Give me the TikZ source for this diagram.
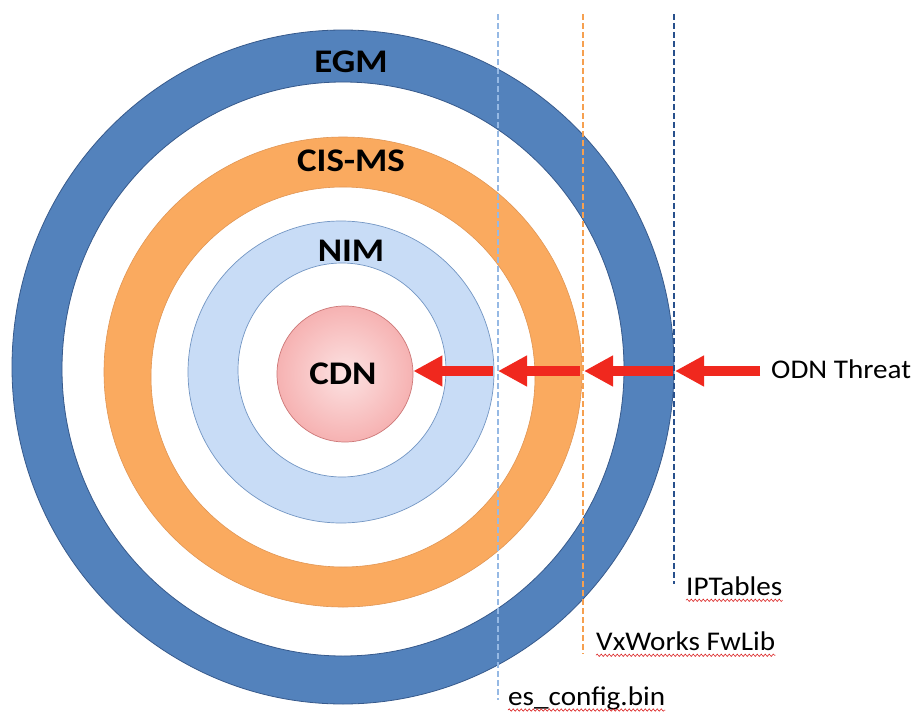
\documentclass[tikz,border=0pt]{standalone}
\usepackage{fontspec}
\setmainfont{Carlito}
\usetikzlibrary{arrows.meta,decorations.pathmorphing}
\definecolor{egmfill}{RGB}{83,130,188}
\definecolor{egmline}{RGB}{55,90,140}
\definecolor{cisfill}{RGB}{250,170,95}
\definecolor{cisline}{RGB}{225,150,85}
\definecolor{nimfill}{RGB}{200,220,246}
\definecolor{nimline}{RGB}{115,150,195}
\definecolor{cdnin}{RGB}{252,226,226}
\definecolor{cdnout}{RGB}{246,178,178}
\definecolor{cdnline}{RGB}{205,120,120}
\definecolor{threat}{RGB}{240,40,30}
\definecolor{dashlight}{RGB}{150,185,228}
\definecolor{dashorange}{RGB}{246,160,80}
\definecolor{dashdark}{RGB}{40,80,140}
\definecolor{squig}{RGB}{220,40,40}
\tikzset{
  ringtitle/.style={font=\bfseries\fontsize{33}{33}\selectfont, text=black, inner sep=0pt, xscale=1.12},
  lbl/.style={font=\fontsize{27}{27}\selectfont, text=black, inner sep=0pt, anchor=west, xscale=1.08},
  threatarrow/.style={draw=threat, line width=10pt, -{Triangle[length=29pt,width=29pt]}},
  layerline/.style={line width=2.6pt, dash pattern=on 6pt off 3pt},
  squiggle/.style={draw=squig, line width=0.6pt, decorate, decoration={snake, amplitude=1.2pt, segment length=4pt}}
}
\begin{document}
\begin{tikzpicture}[x=1pt,y=-1pt]
\useasboundingbox (0,0) rectangle (914,715);
\fill[white] (0,0) rectangle (914,715);
% EGM ring
\fill[egmfill, even odd rule] (343,367) ellipse [x radius=331pt, y radius=337pt] (343,369) ellipse [x radius=281pt, y radius=287pt];
\draw[egmline, line width=0.8pt] (343,367) ellipse [x radius=331pt, y radius=337pt];
\draw[egmline, line width=0.8pt] (343,369) ellipse [x radius=281pt, y radius=287pt];
% CIS-MS ring
\fill[cisfill, even odd rule] (343,372) ellipse [x radius=239pt, y radius=235pt] (343,377) ellipse [x radius=192pt, y radius=190pt];
\draw[cisline, line width=0.6pt] (343,372) ellipse [x radius=239pt, y radius=235pt];
\draw[cisline, line width=0.6pt] (343,377) ellipse [x radius=192pt, y radius=190pt];
% NIM ring
\fill[nimfill, even odd rule] (341,372) ellipse [x radius=153pt, y radius=151pt] (342,370) ellipse [x radius=104pt, y radius=107pt];
\draw[nimline, line width=0.7pt] (341,372) ellipse [x radius=153pt, y radius=151pt];
\draw[nimline, line width=0.7pt] (342,370) ellipse [x radius=104pt, y radius=107pt];
% CDN
\node[circle, minimum size=136pt, inner sep=0pt, draw=cdnline, line width=0.7pt, inner color=cdnin, outer color=cdnout] (cdn) at (345,374) {};
% titles
\node[ringtitle] (egm) at (351,62) {EGM};
\node[ringtitle] (cis) at (351,161) {CIS-MS};
\node[ringtitle] (nim) at (351,251) {NIM};
\node[ringtitle] (cdnt) at (343,374) {CDN};
% dashed layer lines
\coordinate (l1t) at (498,14);
\coordinate (l1b) at (498,700);
\coordinate (l2t) at (583,14);
\coordinate (l2b) at (583,654);
\coordinate (l3t) at (674,14);
\coordinate (l3b) at (674,584);
\draw[layerline, dashlight] (l1t) -- (l1b);
\draw[layerline, dashorange] (l2t) -- (l2b);
\draw[layerline, dashdark] (l3t) -- (l3b);
% arrows
\coordinate (a4s) at (760,371);
\coordinate (a4e) at (675,371);
\coordinate (a3s) at (673,371);
\coordinate (a3e) at (584,371);
\coordinate (a2s) at (580,371);
\coordinate (a2e) at (498,371);
\coordinate (a1s) at (493,371);
\draw[threatarrow] (a4s) -- (a4e);
\draw[threatarrow] (a3s) -- (a3e);
\draw[threatarrow] (a2s) -- (a2e);
\draw[threatarrow] (a1s) -- (a1s -| cdn.east);
% labels
\node[lbl] (odn) at (771,369) {ODN Threat};
\node[lbl] (ipt) at (686,586) {IPTables};
\node[lbl] (vxw) at (596,641) {VxWorks FwLib};
\node[lbl] (esc) at (508,698) {es\_config.bin};
\draw[squiggle] ([yshift=-5pt]ipt.base west) -- ([yshift=-5pt]ipt.base east);
\draw[squiggle] ([yshift=-5pt]vxw.base west) -- ([yshift=-5pt]vxw.base east);
\draw[squiggle] ([yshift=-5pt]esc.base west) -- ([yshift=-5pt]esc.base east);
\end{tikzpicture}
\end{document}
